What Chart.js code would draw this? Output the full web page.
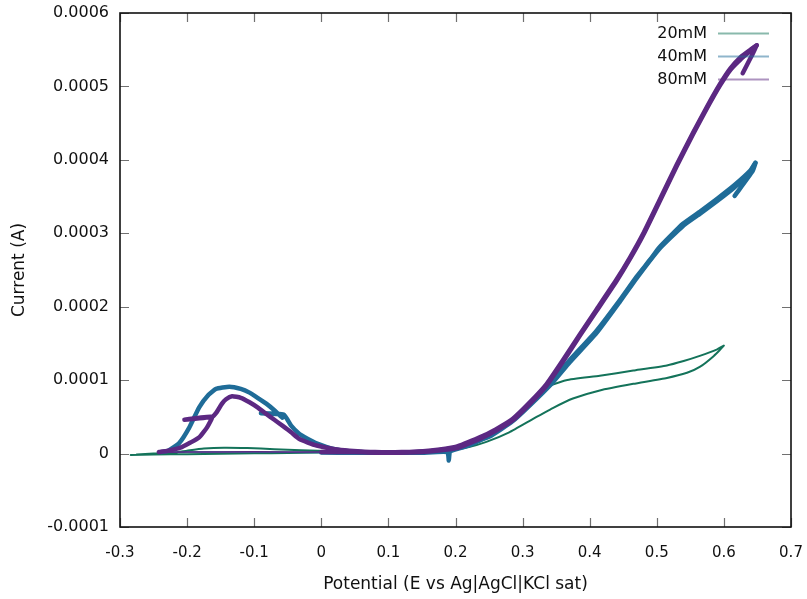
<!DOCTYPE html>
<html>
<head>
<meta charset="utf-8">
<script src="https://cdn.jsdelivr.net/npm/chart.js@4.4.1/dist/chart.umd.min.js"></script>
<style>
  html, body { margin: 0; padding: 0; background: #ffffff; }
  #wrap { width: 807px; height: 599px; }
</style>
</head>
<body>
<div id="wrap"><canvas id="cv" width="807" height="599"></canvas></div>
<script>
// Cyclic voltammograms at three concentrations (potential in V, current in A),
// listed in recording order.
const labels = ['20mM', '40mM', '80mM'];

const e20 = [-0.284, -0.25, -0.2, -0.15, -0.1, -0.05, 0, 0.05, 0.1, 0.15, 0.19, 0.22, 0.246, 0.28, 0.315,
  0.345, 0.375, 0.415, 0.465, 0.515, 0.545, 0.564, 0.585, 0.6,
  0.59, 0.564, 0.54, 0.515, 0.465, 0.415, 0.365, 0.345, 0.336, 0.325, 0.31, 0.285, 0.26, 0.23, 0.2,
  0.17, 0.12, 0.07, 0.02, -0.03, -0.07, -0.11, -0.145, -0.175, -0.2, -0.22, -0.25, -0.275];
const i20 = [-0.0000018, -0.0000012, -0.0000008, -0.0000002, 0.0000003, 0.0000008, 0.0000015, 0.0000015, 0.000001, 0.0000015, 0.000004, 0.000009, 0.000016, 0.000029, 0.000047,
  0.000062, 0.000075, 0.000086, 0.000095, 0.000103, 0.00011, 0.000118, 0.000133, 0.000147,
  0.000142, 0.000133, 0.000126, 0.00012, 0.000113, 0.000106, 0.0001, 0.000094, 0.00009, 0.000082, 0.000068, 0.000047, 0.000032, 0.000018, 0.000009,
  0.000005, 0.000003, 0.000003, 0.000003, 0.0000045, 0.000006, 0.0000075, 0.000008, 0.0000068, 0.000004, 0.0000015, 0, -0.0000012];

const e40 = [0.616, 0.643, 0.647,
  0.639, 0.615, 0.59, 0.565, 0.539, 0.504, 0.47, 0.445, 0.41, 0.37, 0.345, 0.31, 0.285, 0.25, 0.2, 0.15, 0.1, 0.05, 0, -0.1, -0.2, -0.238,
  -0.228, -0.212, -0.197, -0.182, -0.168, -0.157, -0.137, -0.12, -0.107, -0.095, -0.082, -0.07, -0.058,
  -0.056, -0.09, -0.056,
  -0.045, -0.033, -0.02, -0.007, 0.02, 0.05, 0.1, 0.15, 0.188, 0.19, 0.192, 0.22, 0.25,
  0.285, 0.31, 0.336, 0.345, 0.37, 0.41, 0.445, 0.47, 0.49, 0.504, 0.539, 0.565, 0.59, 0.615, 0.639, 0.647];
const i40 = [0.000351, 0.000385, 0.000396,
  0.000383, 0.000362, 0.000344, 0.000327, 0.00031, 0.000279, 0.000239, 0.000207, 0.000164, 0.000124, 0.000097, 0.000065, 0.000044, 0.000023, 0.000008, 0.000002, 0.000001, 0.000001, 0.0000015, 0.000002, 0.000002, 0.000002,
  0.000004, 0.000014, 0.000035, 0.000063, 0.00008, 0.000088, 0.000091, 0.000088, 0.000083, 0.000076, 0.000068, 0.000059, 0.000049,
  0.000053, 0.000055, 0.000053,
  0.000038, 0.000027, 0.00002, 0.000014, 0.000006, 0.0000025, 0.000001, 0.0000012, 0.000002, -0.0000095, 0.000003, 0.000011, 0.000025,
  0.000046, 0.000068, 0.000092, 0.0001, 0.000127, 0.000167, 0.000209, 0.000241, 0.000264, 0.000281, 0.000313, 0.00033, 0.000347, 0.000365, 0.000385, 0.000396];

const e80 = [0.628, 0.641, 0.649,
  0.638, 0.625, 0.61, 0.594, 0.574, 0.554, 0.53, 0.504, 0.48, 0.46, 0.44, 0.41, 0.385, 0.36, 0.336, 0.31, 0.285, 0.26, 0.236, 0.2, 0.15, 0.1, 0.05, 0, -0.1, -0.2, -0.242,
  -0.23, -0.21, -0.195, -0.182, -0.17, -0.163,
  -0.204, -0.163,
  -0.157, -0.148, -0.142, -0.133, -0.12, -0.107, -0.095, -0.082, -0.07, -0.058, -0.045, -0.033, -0.02, -0.007,
  0.02, 0.042, 0.08, 0.12, 0.16, 0.2, 0.236, 0.26, 0.285, 0.31, 0.336, 0.36, 0.385, 0.41, 0.44, 0.46, 0.48, 0.504, 0.53, 0.554, 0.574, 0.594, 0.61, 0.625, 0.638, 0.649];
const i80 = [0.000518, 0.000541, 0.000556,
  0.000547, 0.000537, 0.000523, 0.000501, 0.000469, 0.000435, 0.000392, 0.000343, 0.000298, 0.000265, 0.000235, 0.000194, 0.00016, 0.000125, 0.000093, 0.000067, 0.000045, 0.000031, 0.00002, 0.000007, 0.000002, 0.000001, 0.000002, 0.000002, 0.0000025, 0.000002, 0.000002,
  0.0000035, 0.000008, 0.000015, 0.000022, 0.000036, 0.00005,
  0.000046, 0.00005,
  0.000055, 0.000068, 0.000074, 0.000078, 0.000076, 0.00007, 0.000063, 0.000054, 0.000046, 0.000038, 0.000029, 0.00002, 0.000015, 0.000011,
  0.000006, 0.000004, 0.000002, 0.000002, 0.000004, 0.000009, 0.000022, 0.000033, 0.000047, 0.000069, 0.000095, 0.000127, 0.000162, 0.000196, 0.000237, 0.000267, 0.0003, 0.000345, 0.000394, 0.000437, 0.000471, 0.000503, 0.000525, 0.00054, 0.000549, 0.000556];

// Axis ranges and tick steps
const xTicks = { min: -0.3, max: 0.7, step: 0.1 };
const yTicks = { min: -0.0001, max: 0.0006, step: 0.0001 };

const lineColors = ['#14735a', '#1f6c98', '#5c2882'];
const keyColors = ['rgba(20,115,90,0.5)', 'rgba(31,108,152,0.5)', 'rgba(92,40,130,0.5)'];
const lineWidths = [2, 4.5, 4.5];
const FONT = 'DejaVu Sans';

function zip(xs, ys) { return xs.map((x, k) => ({ x: x, y: ys[k] })); }
function fmt(v) { return String(parseFloat(Number(v).toFixed(6))); }

const series = [zip(e20, i20), zip(e40, i40), zip(e80, i80)];

// The return sweep across the negative baseline is a smooth thin trace
function segWidth(base) {
  return ctx => {
    const a = ctx.p0.parsed, b = ctx.p1.parsed;
    if (base > 3 && a.x <= 0 && b.x <= 0 && b.x < a.x && Math.abs(a.y) < 4e-6 && Math.abs(b.y) < 4e-6) return 1.5;
    return base;
  };
}

// gnuplot-like frame: full border with inward ticks on all four sides
const framePlugin = {
  id: 'frame',
  afterDatasetsDraw(chart) {
    const { ctx, chartArea: a, scales } = chart;
    const tl = 9;
    ctx.save();
    ctx.strokeStyle = '#707070';
    ctx.lineWidth = 1.2;
    ctx.beginPath();
    scales.x.ticks.forEach(t => {
      const px = Math.round(scales.x.getPixelForValue(t.value)) + 0.5;
      ctx.moveTo(px, a.bottom); ctx.lineTo(px, a.bottom - tl);
      ctx.moveTo(px, a.top); ctx.lineTo(px, a.top + tl);
    });
    scales.y.ticks.forEach(t => {
      const py = Math.round(scales.y.getPixelForValue(t.value)) + 0.5;
      ctx.moveTo(a.left, py); ctx.lineTo(a.left + tl, py);
      ctx.moveTo(a.right, py); ctx.lineTo(a.right - tl, py);
    });
    ctx.stroke();
    ctx.strokeStyle = '#111111';
    ctx.lineWidth = 1.6;
    ctx.strokeRect(a.left, a.top, a.right - a.left, a.bottom - a.top);
    ctx.restore();
  }
};

// Key in the upper right corner: label text right-aligned, sample line after it
const keyPlugin = {
  id: 'key',
  afterDraw(chart) {
    const { ctx, chartArea: a } = chart;
    const textRight = a.right - 84;
    const x0 = a.right - 73, x1 = a.right - 22;
    ctx.save();
    ctx.font = '16px "' + FONT + '"';
    ctx.textAlign = 'right';
    ctx.textBaseline = 'middle';
    chart.data.datasets.forEach((ds, k) => {
      const y = a.top + 20 + k * 23;
      ctx.fillStyle = '#111111';
      ctx.fillText(ds.label, textRight, y + 1);
      ctx.strokeStyle = keyColors[k];
      ctx.lineWidth = 2;
      ctx.beginPath();
      ctx.moveTo(x0, y + 0.5); ctx.lineTo(x1, y + 0.5);
      ctx.stroke();
    });
    ctx.restore();
  }
};

new Chart(document.getElementById('cv'), {
  type: 'scatter',
  data: {
    datasets: series.map((pts, k) => ({
      label: labels[k],
      data: pts,
      showLine: true,
      borderColor: lineColors[k],
      backgroundColor: lineColors[k],
      borderWidth: lineWidths[k],
      segment: { borderWidth: segWidth(lineWidths[k]) },
      pointRadius: 0,
      tension: 0.15,
      borderJoinStyle: 'round',
      borderCapStyle: 'round',
      order: 2 - k
    }))
  },
  options: {
    responsive: false,
    animation: false,
    events: [],
    layout: { padding: { top: 13, right: 16, left: 0, bottom: 0 } },
    plugins: { legend: { display: false }, tooltip: { enabled: false } },
    scales: {
      x: {
        type: 'linear',
        min: xTicks.min, max: xTicks.max,
        grid: { display: false, drawTicks: false },
        border: { display: false },
        ticks: {
          stepSize: xTicks.step,
          padding: 17,
          color: '#111111',
          font: { family: FONT, size: 15 },
          maxRotation: 0,
          autoSkip: false,
          callback: v => fmt(v)
        },
        title: {
          display: true,
          text: 'Potential (E vs Ag|AgCl|KCl sat)',
          color: '#111111',
          font: { family: FONT, size: 17 },
          padding: { top: 0, bottom: 4 }
        },
        afterFit: s => { s.height = 72; s.paddingLeft = 0; s.paddingRight = 0; }
      },
      y: {
        type: 'linear',
        min: yTicks.min, max: yTicks.max,
        grid: { display: false, drawTicks: false },
        border: { display: false },
        ticks: {
          stepSize: yTicks.step,
          padding: 11,
          color: '#111111',
          font: { family: FONT, size: 16 },
          autoSkip: false,
          callback: v => fmt(v)
        },
        title: {
          display: true,
          text: 'Current (A)',
          color: '#111111',
          font: { family: FONT, size: 17 },
          padding: { top: 9, bottom: 0 }
        },
        afterFit: s => { s.width = 120; s.paddingTop = 0; s.paddingBottom = 0; }
      }
    }
  },
  plugins: [framePlugin, keyPlugin]
});
</script>
</body>
</html>
